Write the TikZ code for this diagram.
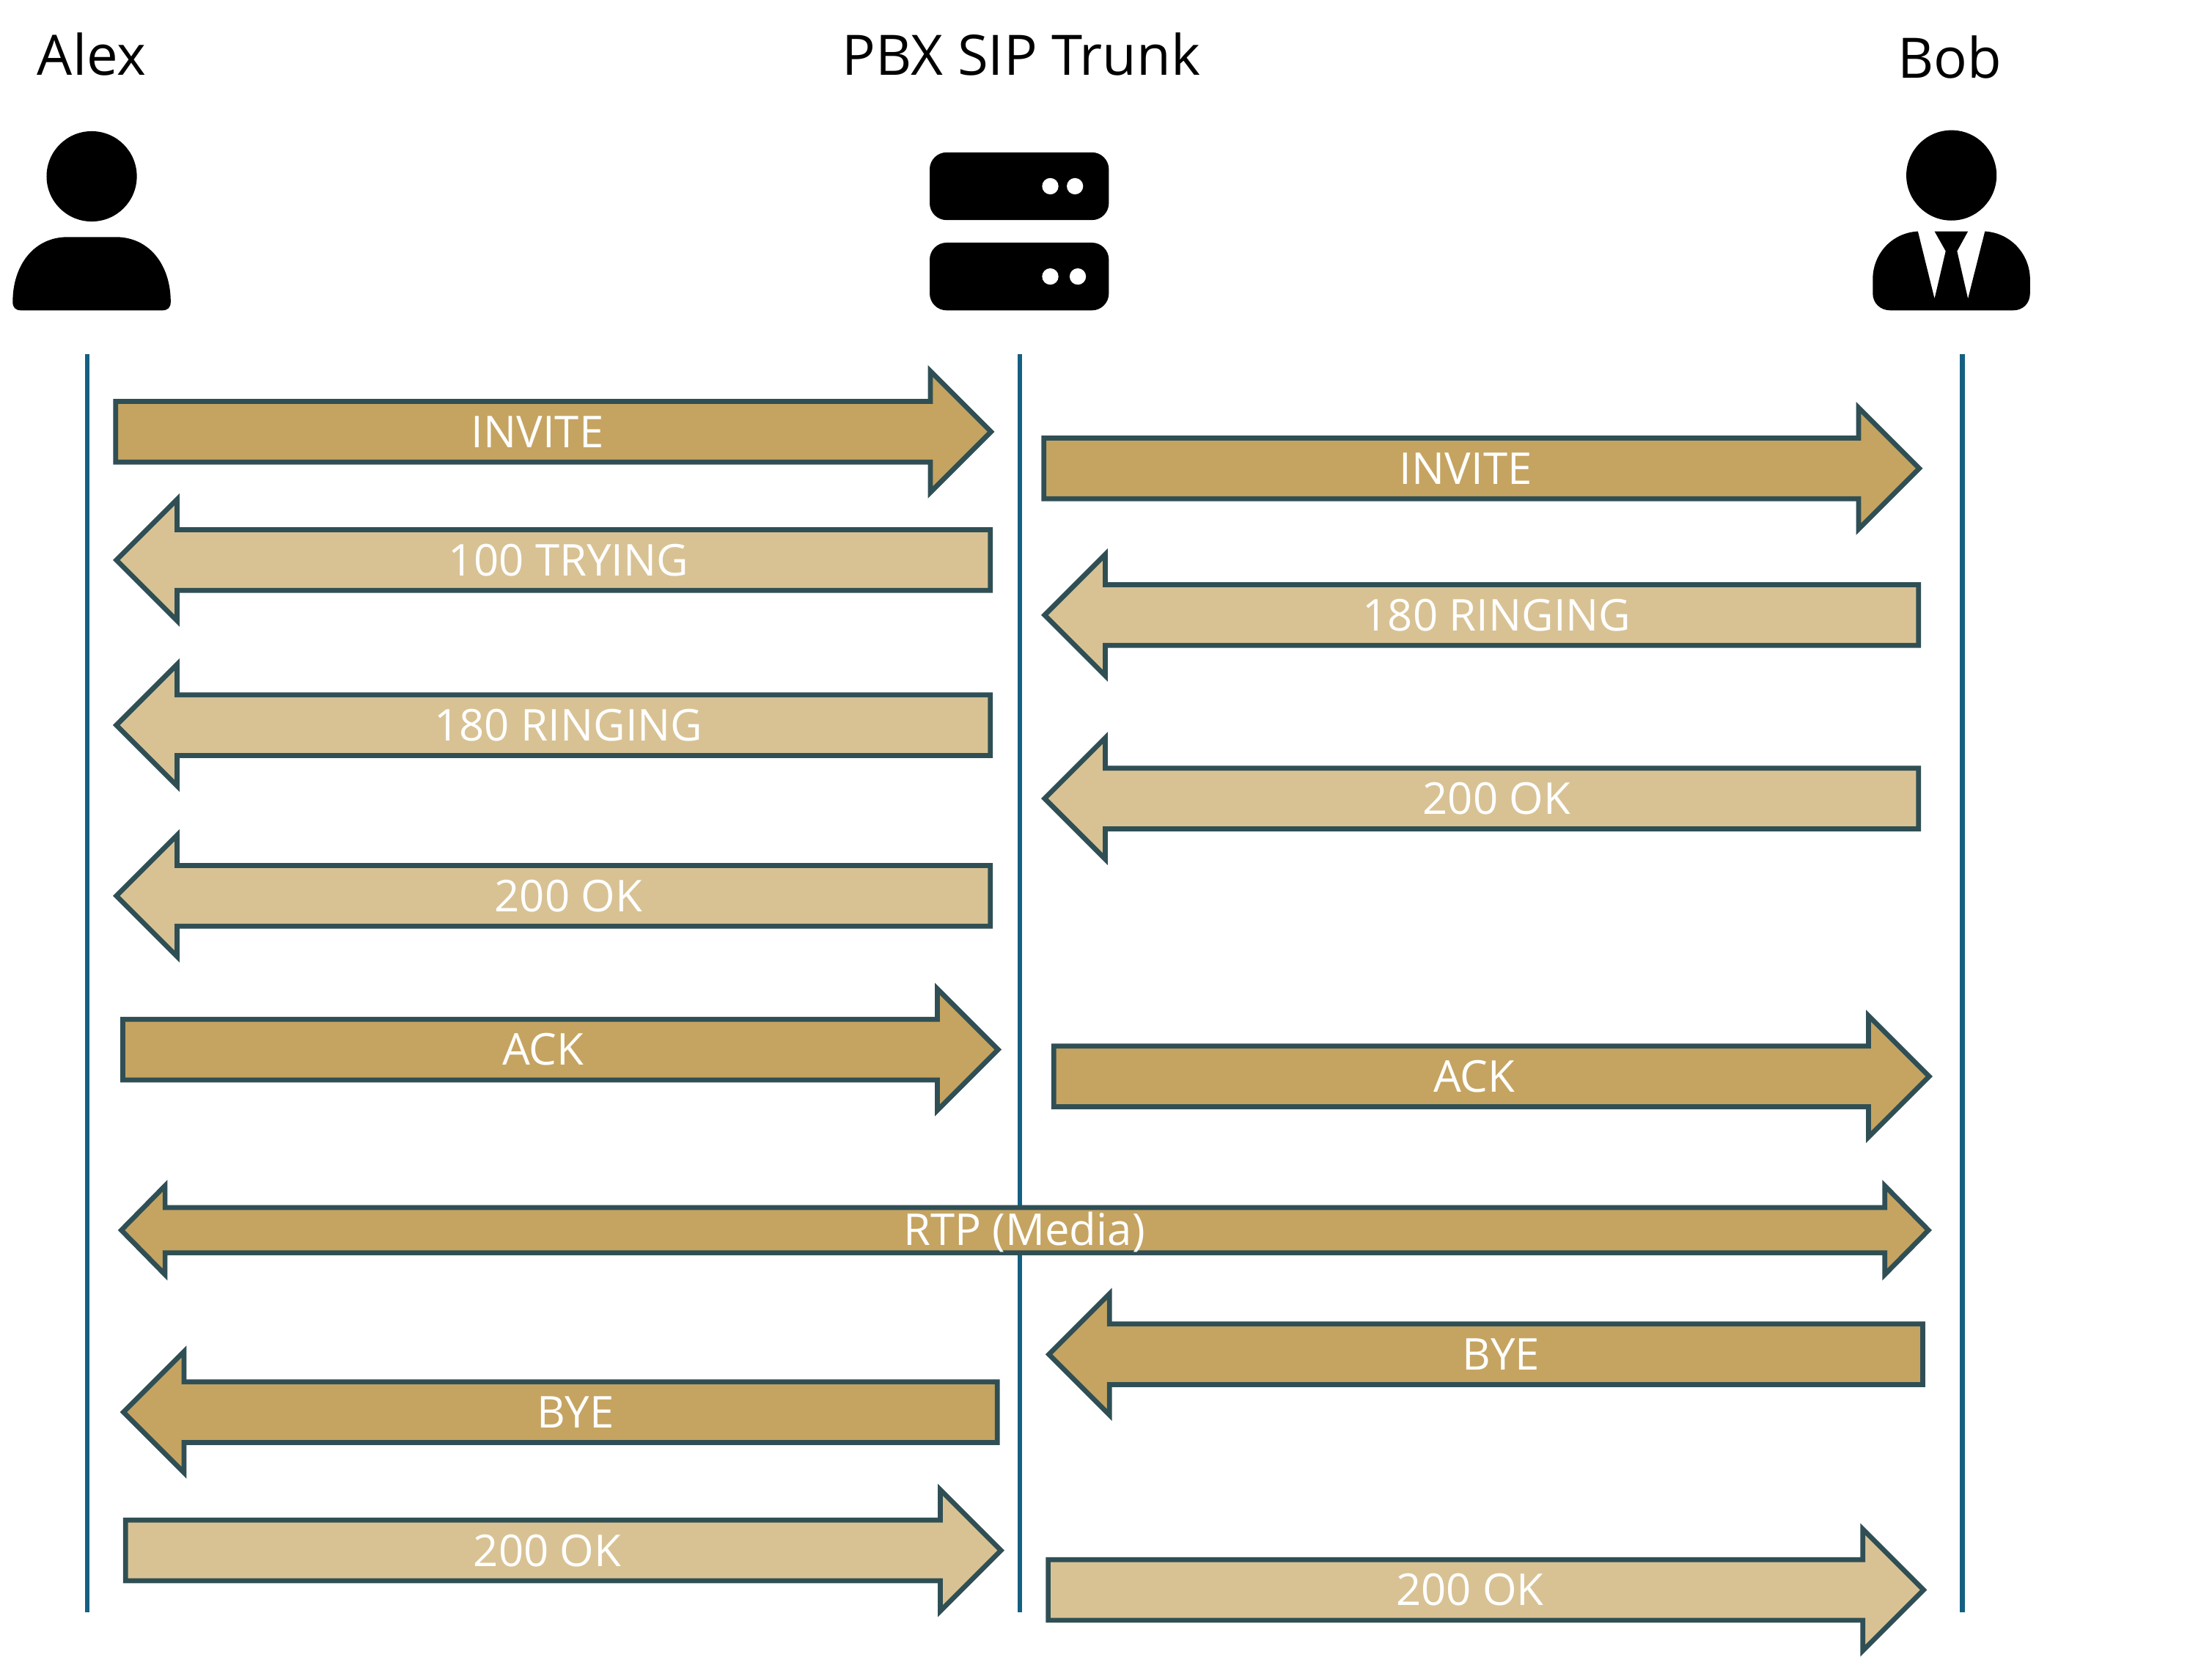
\documentclass[tikz,border=0pt]{standalone}
\usepackage{fontspec}
\setmainfont{Open Sans}
\definecolor{lifeblue}{HTML}{156082}
\definecolor{edgeteal}{HTML}{2F4F55}
\definecolor{msgdark}{HTML}{C5A461}
\definecolor{msglight}{HTML}{D8C294}
\tikzset{
  lifeline/.style={draw=lifeblue,line width=0.065cm},
  msg/.style={draw=edgeteal,line width=0.07cm},
  msglabel/.style={text=white,font=\fontsize{17.7}{21}\selectfont,inner sep=0pt},
  heading/.style={text=black,font=\fontsize{22.5}{27}\selectfont,inner sep=0pt},
  icon/.style={fill=black,draw=none},
}
\newcommand{\msgright}[7]{%
  \draw[msg,fill=#5] (#2,#4-21.5) -- (#3-43,#4-21.5) -- (#3-43,#4-43) -- (#3,#4)
    -- (#3-43,#4+43) -- (#3-43,#4+21.5) -- (#2,#4+21.5) -- cycle;
  \node[msglabel] (#1) at (#6,#4) {#7};
}
\newcommand{\msgleft}[7]{%
  \draw[msg,fill=#5] (#3,#4-21.5) -- (#2+43,#4-21.5) -- (#2+43,#4-43) -- (#2,#4)
    -- (#2+43,#4+43) -- (#2+43,#4+21.5) -- (#3,#4+21.5) -- cycle;
  \node[msglabel] (#1) at (#6,#4) {#7};
}
\begin{document}
\begin{tikzpicture}[x=0.02cm,y=-0.02cm]
\useasboundingbox (0,0) rectangle (1568,1174.07);

\node[heading] (alex) at (65,38.5) {Alex};
\node[heading] (trunk) at (724,38.5) {PBX SIP Trunk};
\node[heading] (bob) at (1382,40.5) {Bob};

\fill[icon] (65,125) circle (32);
\fill[icon] (9,214) .. controls (9,188) and (24,168) .. (48,168) -- (82,168)
  .. controls (106,168) and (121,188) .. (121,214)
  .. controls (121,218) and (119,220) .. (115,220) -- (15,220)
  .. controls (11,220) and (9,218) .. (9,214) -- cycle;

\fill[icon,rounded corners=12*0.02cm] (659,108) rectangle (786,156);
\fill[icon,rounded corners=12*0.02cm] (659,172) rectangle (786,220);
\fill[white] (744.5,132) circle (5.8);
\fill[white] (762,132) circle (5.8);
\fill[white] (744.5,196) circle (5.8);
\fill[white] (764,196) circle (5.8);

\fill[icon] (1383.3,124.3) circle (32);
\fill[icon] (1359.5,164) -- (1371.3,211.7) -- (1379.2,178) -- (1371.3,164)
  -- (1395,164) -- (1387.3,178) -- (1395,211.7) -- (1407,164)
  .. controls (1425,165) and (1439,180) .. (1439,198) -- (1439,208)
  .. controls (1439,215) and (1434,220) .. (1427,220) -- (1340,220)
  .. controls (1333,220) and (1327.5,215) .. (1327.5,208) -- (1327.5,198)
  .. controls (1327.5,180) and (1341,165) .. (1359.5,164) -- cycle;

\coordinate (alextop) at (61.7,251);
\coordinate (alexend) at (61.7,1143);
\coordinate (trunktop) at (723,251);
\coordinate (trunkend) at (723,1143);
\coordinate (bobtop) at (1391,251);
\coordinate (bobend) at (1391,1143);
\draw[lifeline] (alextop) -- (alexend);
\draw[lifeline] (trunktop) -- (trunkend);
\draw[lifeline] (bobtop) -- (bobend);

\msgright{inviteA}{82}{702.5}{306}{msgdark}{381}{INVITE}
\msgleft{tryingA}{82.5}{702}{397}{msglight}{403}{100 TRYING}
\msgleft{ringingA}{82.5}{702}{514}{msglight}{403}{180 RINGING}
\msgleft{okA}{82.5}{702}{635}{msglight}{403}{200 OK}
\msgright{ackA}{87}{707.5}{744}{msgdark}{385}{ACK}
\msgleft{byeA}{87.5}{707}{1001}{msgdark}{408}{BYE}
\msgright{closeA}{89}{709.5}{1099}{msglight}{388}{200 OK}

\msgright{inviteB}{740}{1360.5}{332}{msgdark}{1039}{INVITE}
\msgleft{ringingB}{740.5}{1360}{436}{msglight}{1061}{180 RINGING}
\msgleft{okB}{740.5}{1360}{566}{msglight}{1061}{200 OK}
\msgright{ackB}{747}{1367.5}{763}{msgdark}{1045}{ACK}
\msgleft{byeB}{743.5}{1363}{960}{msgdark}{1064}{BYE}
\msgright{closeB}{743}{1363.5}{1127}{msglight}{1042}{200 OK}

\draw[msg,fill=msgdark] (86,872) -- (117,840.5) -- (117,856) -- (1336,856) -- (1336,840.5)
  -- (1367,872) -- (1336,903.5) -- (1336,888) -- (117,888) -- (117,903.5) -- cycle;
\node[msglabel] (media) at (726,873.5) {RTP (Media)};
\end{tikzpicture}
\end{document}
